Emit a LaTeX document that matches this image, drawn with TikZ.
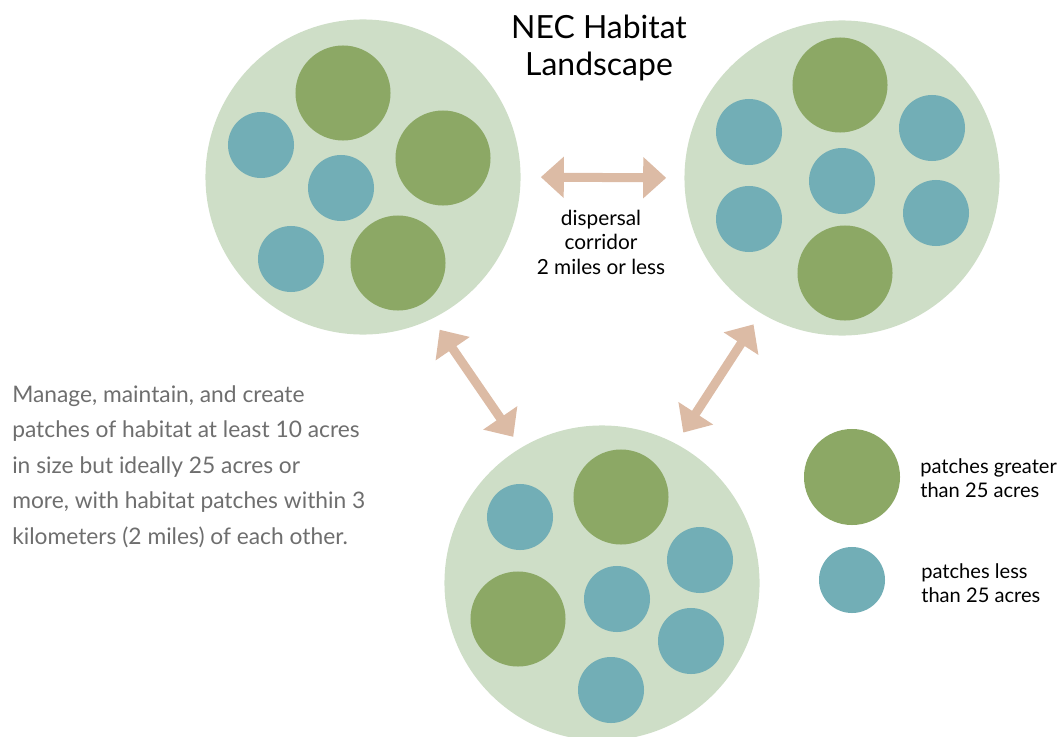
\documentclass[tikz,border=0pt]{standalone}
\usepackage{fontspec}
\setmainfont{Lato}
\usepackage{xcolor}
\usetikzlibrary{arrows.meta, positioning}
\definecolor{landgreen}{HTML}{CEDEC7}
\definecolor{patchgreen}{HTML}{8CA865}
\definecolor{patchteal}{HTML}{72AEB6}
\definecolor{arrowtan}{HTML}{DCBBA5}
\definecolor{notegray}{HTML}{6E6E6E}

\begin{document}
\begin{tikzpicture}[
  x=0.025cm, y=-0.025cm,
  land/.style={circle, fill=landgreen, minimum size=7.875cm, inner sep=0pt},
  big/.style={circle, fill=patchgreen, minimum size=2.375cm, inner sep=0pt},
  small/.style={circle, fill=patchteal, minimum size=1.65cm, inner sep=0pt},
  link/.style={draw=arrowtan, line width=0.225cm,
    {Triangle[length=0.575cm, width=1cm]}-{Triangle[length=0.575cm, width=1cm]}},
  lbl/.style={font=\fontsize{14.8}{17.4}\selectfont, align=center, inner sep=0pt},
  key/.style={font=\fontsize{14.3}{17}\selectfont, align=left, anchor=west, inner sep=0pt}
]
  \useasboundingbox (0,0) rectangle (1064,736);

  % Landscapes
  \node[land] (nw) at (363,177) {};
  \node[land] (ne) at (842,178) {};
  \node[land] (s) at (602,583) {};

  % Patches, north-west
  \foreach \x/\y [count=\i] in {343/93, 443/158, 398/263}
    \node[big] (nwb\i) at (\x,\y) {};
  \foreach \x/\y [count=\i] in {261/145, 341/188, 291/259}
    \node[small] (nws\i) at (\x,\y) {};

  % Patches, north-east
  \foreach \x/\y [count=\i] in {840/85, 845/273}
    \node[big] (neb\i) at (\x,\y) {};
  \foreach \x/\y [count=\i] in {749/132, 932/128, 842/181, 749/219, 936/213}
    \node[small] (nes\i) at (\x,\y) {};

  % Patches, south
  \foreach \x/\y [count=\i] in {621/497, 518/619}
    \node[big] (sb\i) at (\x,\y) {};
  \foreach \x/\y [count=\i] in {520/517, 700/560, 617/599, 691/641, 611/690}
    \node[small] (ss\i) at (\x,\y) {};

  % Corridors
  \draw[link, shorten <=0.5cm, shorten >=0.45cm] (nw.0) -- (ne.180);
  \draw[link, shorten <=0.33cm, shorten >=0.33cm] (nw.-64) -- (s.121);
  \draw[link, shorten <=0.33cm, shorten >=0.33cm] (ne.-121) -- (s.62);

  % Labels
  \node[font=\fontsize{22.7}{26.3}\selectfont, align=center, inner sep=0pt] (title) at (599,48)
    {NEC Habitat\\Landscape};
  \node[lbl] (corr) at (601,242) {dispersal\\corridor\\2 miles or less};

  \node[font=\fontsize{16.2}{25.3}\selectfont, text=notegray, align=left, anchor=north west,
    inner sep=0pt] (note) at (12,385)
    {Manage, maintain, and create\\patches of habitat at least 10 acres\\in size but ideally 25 acres or\\more, with habitat patches within 3\\kilometers (2 miles) of each other.};

  % Legend
  \node[big, minimum size=2.4cm] (kbig) at (852,477) {};
  \node[small] (ksmall) at (852,580) {};
  \node[key] (kbigtxt) at (920,478) {patches greater\\than 25 acres};
  \node[key] (ksmalltxt) at (921,583) {patches less\\than 25 acres};
\end{tikzpicture}
\end{document}
